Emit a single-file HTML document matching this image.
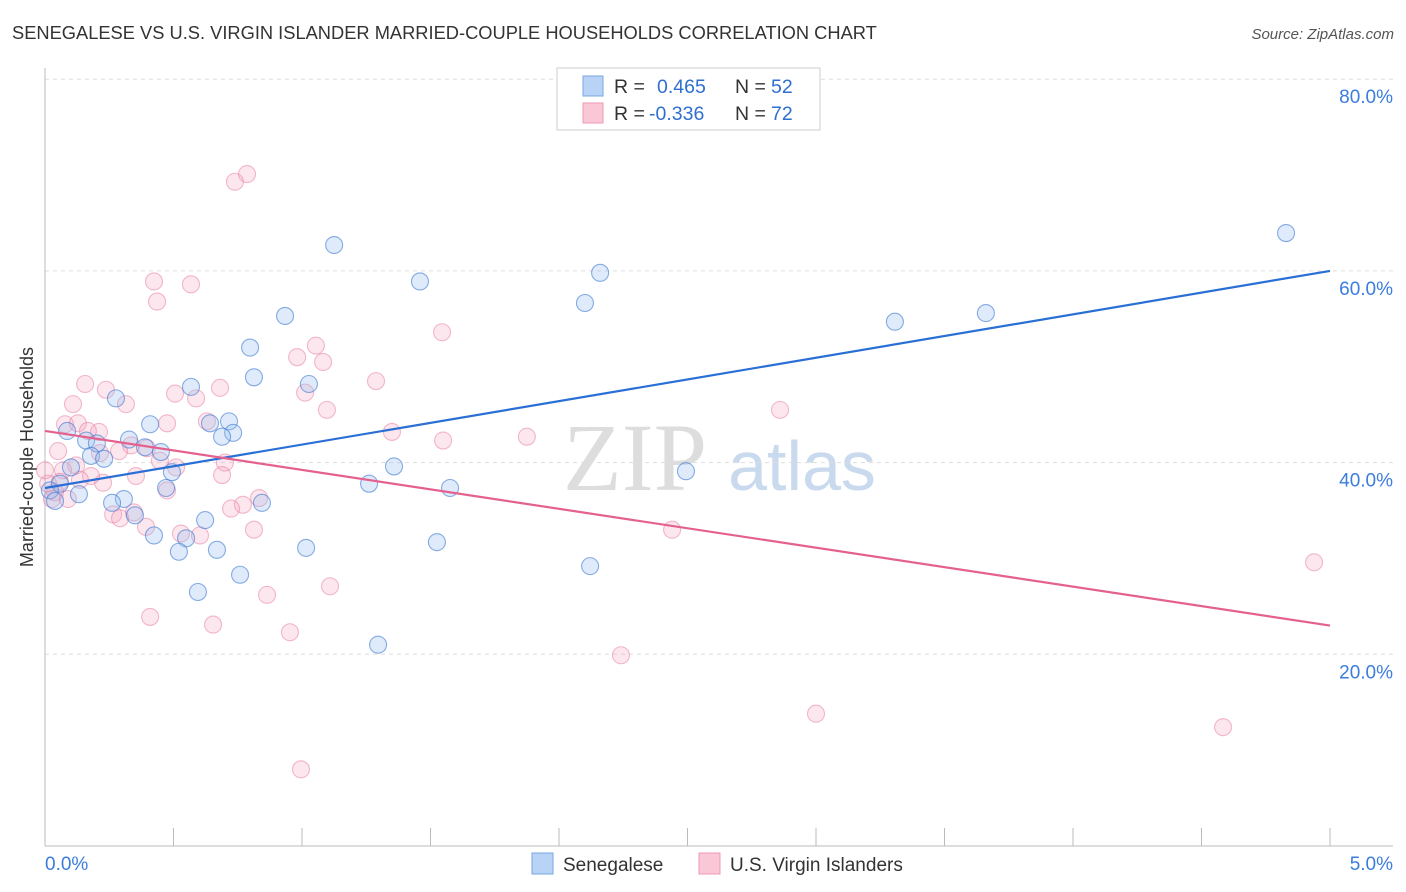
<!DOCTYPE html>
<html><head><meta charset="utf-8"><style>
body{margin:0;background:#fff;font-family:"Liberation Sans",sans-serif}
svg{display:block}
</style></head><body>
<svg id="c" width="1406" height="892">
<text x="12" y="39" font-size="18.3" fill="#333">SENEGALESE VS U.S. VIRGIN ISLANDER MARRIED-COUPLE HOUSEHOLDS CORRELATION CHART</text>
<text x="1394" y="39" font-size="15" fill="#555" font-style="italic" text-anchor="end">Source: ZipAtlas.com</text>
<text x="33" y="457" font-size="18" fill="#333" text-anchor="middle" transform="rotate(-90 33 457)">Married-couple Households</text>
<g><text x="635" y="490" font-size="96" fill="#ddd" font-family="Liberation Serif,serif" text-anchor="middle">ZIP</text><text x="802" y="490" font-size="70" fill="#c9d9ee" text-anchor="middle">atlas</text></g>
<g id="grid"></g><g id="marks"></g>
<g>
<rect x="557" y="68" width="263" height="62" fill="#fff" stroke="#ccc"/>
<rect x="583" y="76" width="20" height="20" fill="#b8d3f5" stroke="#7aa7e0"/>
<rect x="583" y="103" width="20" height="20" fill="#f9c7d6" stroke="#ee9ab4"/>
<text x="614" y="93" font-size="19.5" fill="#333">R =</text><text x="657" y="93" font-size="19.5" fill="#2f6fd0">0.465</text><text x="735" y="93" font-size="19.5" fill="#333">N =</text><text x="771" y="93" font-size="19.5" fill="#2f6fd0">52</text>
<text x="614" y="120" font-size="19.5" fill="#333">R =</text><text x="649" y="120" font-size="19.5" fill="#2f6fd0">-0.336</text><text x="735" y="120" font-size="19.5" fill="#333">N =</text><text x="771" y="120" font-size="19.5" fill="#2f6fd0">72</text>
</g>
<g>
<rect x="532" y="853" width="21" height="21" fill="#b8d3f5" stroke="#7aa7e0"/>
<text x="563" y="871" font-size="19" fill="#333">Senegalese</text>
<rect x="699" y="853" width="21" height="21" fill="#f9c7d6" stroke="#ee9ab4"/>
<text x="730" y="871" font-size="19" fill="#333">U.S. Virgin Islanders</text>
</g>
</svg>
<script>
const yTicks=[20,40,60,80];
const xTickLabels=["0.0%","5.0%"];
const blueX=[4.829,1.125,2.160,1.459,2.101,3.307,3.661,0.934,0.798,0.813,1.027,0.568,0.276,0.409,0.642,0.716,0.732,0.689,0.086,0.327,0.160,0.202,0.389,0.451,0.179,0.230,0.494,0.101,1.358,2.494,0.058,0.019,0.471,1.261,1.576,0.132,0.039,0.307,0.261,0.844,0.350,0.623,0.424,0.549,0.521,0.669,1.016,1.525,2.121,0.759,0.595,1.296];
const blueY=[63.95,62.7,59.8,58.9,56.65,54.7,55.6,55.3,52.0,48.9,48.2,47.9,46.7,44.0,44.1,44.3,43.1,42.7,43.3,42.4,42.3,42.0,41.6,41.1,40.7,40.4,39.0,39.5,39.6,39.1,37.8,37.1,37.35,37.8,37.35,36.7,36.0,36.2,35.8,35.8,34.5,34.0,32.4,32.1,30.7,30.9,31.1,31.7,29.2,28.3,26.5,21.0];
const pinkX=[0.786,0.739,0.424,0.568,0.436,1.545,1.054,0.981,1.082,1.288,0.237,0.506,0.681,1.012,0.588,0.315,0.109,1.097,2.860,0.078,0.128,0.475,0.630,0.210,0.167,1.350,1.875,1.549,0.335,0.397,0.288,0.051,0.214,0.447,0.700,0.510,0.121,0.070,0.179,0.354,0.689,0.136,0.226,0.012,0.475,0.039,0.833,0.770,0.724,0.346,0.265,0.393,0.813,2.440,0.529,0.603,4.938,1.109,0.864,0.409,0.654,0.953,2.241,3.000,4.584,0.996,0.156,0.027,0.058,0.0,0.089,0.292];
const pinkY=[70.1,69.3,58.9,58.6,56.8,53.6,52.2,51.0,50.5,48.5,47.6,47.2,47.8,47.3,46.7,46.1,46.1,45.5,45.5,44.0,44.1,44.1,44.3,43.2,43.3,43.2,42.7,42.3,41.8,41.5,41.2,41.2,41.0,40.2,40.0,39.5,39.7,39.2,38.6,38.6,38.7,38.2,37.9,37.8,37.1,36.9,36.3,35.6,35.2,34.8,34.6,33.3,33.0,33.0,32.6,32.4,29.6,27.1,26.2,23.9,23.1,22.3,19.9,13.8,12.4,8.0,48.2,36.2,38.0,39.2,36.2,34.2];
const blueTrend=[37.35,60.0];
const pinkTrend=[43.3,23.0];
const X0=45,X1=1330,Y0=846,PY=9.585;
const sx=v=>X0+(v/5)*(X1-X0), sy=v=>Y0-v*PY;
const NS="http://www.w3.org/2000/svg";
function mk(p,t,a){const e=document.createElementNS(NS,t);for(const k in a)e.setAttribute(k,a[k]);p.appendChild(e);return e;}
const g=document.getElementById('grid'), m=document.getElementById('marks');
yTicks.forEach(t=>{
 const l=mk(g,'line',{x1:45,x2:1393,y1:sy(t),y2:sy(t),stroke:'#ddd','stroke-dasharray':'4 4'});
 
 
 const tx=mk(g,'text',{x:1393,y:sy(t)+24,'font-size':19,fill:'#3b7ddd','text-anchor':'end'});tx.textContent=t.toFixed(1)+'%';
 
 
});
const ax=mk(g,'line',{x1:45,x2:1393,y1:846,y2:846,stroke:'#bbb'});


const ay=mk(g,'line',{x1:45,x2:45,y1:68,y2:846,stroke:'#bbb'});


for(let i=1;i<=10;i++){const t=mk(g,'line',{x1:sx(i*0.5),x2:sx(i*0.5),y1:828,y2:846,stroke:'#bbb'});
 
 }
[[0,'start',45],[5,'end',1393]].forEach((d,i)=>{const t=mk(g,'text',{x:d[2],y:870,'font-size':19,fill:'#3b7ddd','text-anchor':d[1]});t.textContent=xTickLabels[i];
 
 });
pinkX.forEach((x,i)=>{const c=mk(m,'circle',{cx:sx(x),cy:sy(pinkY[i]),r:8.5,fill:'rgba(244,160,186,0.25)',stroke:'rgba(232,120,155,0.5)','stroke-width':1.1});
 
 });
blueX.forEach((x,i)=>{const c=mk(m,'circle',{cx:sx(x),cy:sy(blueY[i]),r:8.5,fill:'rgba(150,190,240,0.3)',stroke:'rgba(60,120,210,0.6)','stroke-width':1.1});
 
 });
const bl=mk(m,'line',{x1:sx(0),y1:sy(blueTrend[0]),x2:sx(5),y2:sy(blueTrend[1]),stroke:'#2a6fd6','stroke-width':2.2});


const pl=mk(m,'line',{x1:sx(0),y1:sy(pinkTrend[0]),x2:sx(5),y2:sy(pinkTrend[1]),stroke:'#e5618d','stroke-width':2.2});


</script>
</body></html>
